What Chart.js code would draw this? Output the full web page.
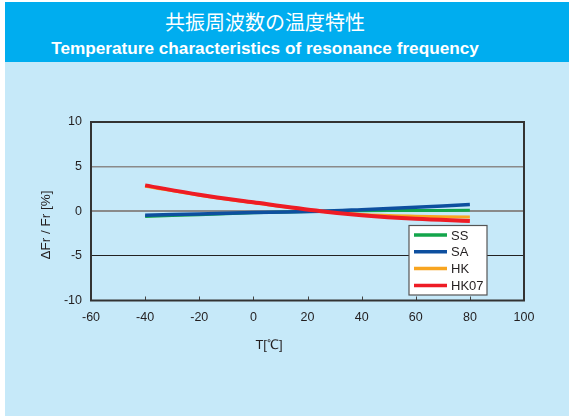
<!DOCTYPE html>
<html lang="ja">
<head>
<meta charset="UTF-8">
<title>共振周波数の温度特性</title>
<script src="https://cdn.jsdelivr.net/npm/chart.js@4.4.5/dist/chart.umd.min.js"></script>
<style>
    body { margin: 0; background: #fff; width: 569px; height: 416px; overflow: hidden; position: relative; }
    #panel { position: absolute; left: 5px; top: 2px; width: 564px; height: 414px; background: #c6e9f9; }
    #header { position: absolute; left: 5px; top: 2px; width: 564px; height: 60px; background: #00adef; color: #fff; }
    #header .jp { position: absolute; left: 0; width: 520px; top: 7px; text-align: center;
        font-family: "Noto Sans CJK JP", sans-serif; font-size: 20px; line-height: 26px; }
    #header .en { position: absolute; left: 0; width: 520px; top: 36px; text-align: center;
        font-family: "Liberation Sans", Arial, sans-serif; font-weight: bold; font-size: 17.2px; line-height: 20px; }
    #wrap { position: absolute; left: 0; top: 0; width: 569px; height: 416px; }
</style>
</head>
<body>
<div id="panel"></div>
<div id="header">
    <div class="jp">共振周波数の温度特性</div>
    <div class="en">Temperature characteristics of resonance frequency</div>
</div>
<div id="wrap"><canvas id="myChart" width="569" height="416"></canvas></div>

<script>
    // temperatures in degC
    const temps = [-40, -20, 0, 25, 40, 60, 80];

    // dFr/Fr in %
    const ss   = [-0.6, -0.38, -0.18, 0, 0.06, 0.09, 0.1];
    const sa   = [-0.45, -0.3, -0.15, 0, 0.18, 0.45, 0.75];
    const hk   = [2.8, 1.8, 0.95, 0, -0.35, -0.55, -0.65];
    const hk07 = [2.9, 1.85, 1.0, 0, -0.45, -0.85, -1.1];

    const seriesNames = ['SS', 'SA', 'HK', 'HK07'];
    const xTicks = [-60, -40, -20, 0, 20, 40, 60, 80, 100];
    const yTicks = [-10, -5, 0, 5, 10];

    const xTitle = 'T[℃]';
    const yTitle = 'ΔFr / Fr [%]';

    function pts(vals) {
        return temps.map((t, i) => ({x: t, y: vals[i]}));
    }

    const colors = ['#13a54b', '#0d4f9f', '#f8a520', '#ee1c25'];
    const widths = [3, 3.5, 3, 4];
    const orders = [3, 1, 2, 0];

    const datasets = [ss, sa, hk, hk07].map((vals, i) => ({
        label: seriesNames[i],
        data: pts(vals),
        borderColor: colors[i],
        borderWidth: widths[i],
        pointRadius: 0,
        tension: 0.35,
        fill: false,
        order: orders[i]
    }));

    const frameAndLegend = {
        id: 'frameAndLegend',
        beforeDatasetsDraw: function (chart) {
            const ctx = chart.ctx;
            const a = chart.chartArea;
            const xs = chart.scales.x;
            ctx.save();
            // inward ticks on bottom axis
            ctx.strokeStyle = '#444';
            ctx.lineWidth = 1;
            xTicks.slice(1, -1).forEach(v => {
                const px = Math.round(xs.getPixelForValue(v)) + 0.5;
                ctx.beginPath();
                ctx.moveTo(px, a.bottom);
                ctx.lineTo(px, a.bottom - 4);
                ctx.stroke();
            });
            ctx.restore();
        },
        afterDraw: function (chart) {
            const ctx = chart.ctx;
            const a = chart.chartArea;
            ctx.save();
            // frame
            ctx.strokeStyle = '#333';
            ctx.lineWidth = 2;
            ctx.strokeRect(a.left, a.top, a.right - a.left, a.bottom - a.top);

            // axis titles
            ctx.fillStyle = '#231f20';
            ctx.font = '13px "Liberation Sans", Arial, sans-serif';
            ctx.textAlign = 'center';
            ctx.textBaseline = 'middle';
            ctx.fillText(xTitle, 269, 345);
            ctx.save();
            ctx.translate(46, 225);
            ctx.rotate(-Math.PI / 2);
            ctx.font = '13.5px "Liberation Sans", Arial, sans-serif';
            ctx.fillText(yTitle, 0, 0);
            ctx.restore();

            // legend box
            const lx = 409, ly = 225.5, lw = 78, lh = 69.5;
            ctx.fillStyle = '#fff';
            ctx.fillRect(lx, ly, lw, lh);
            ctx.strokeStyle = '#555';
            ctx.lineWidth = 1.2;
            ctx.strokeRect(lx, ly, lw, lh);
            ctx.font = '13px "Liberation Sans", Arial, sans-serif';
            ctx.textAlign = 'left';
            chart.data.datasets.forEach((ds, i) => {
                const y = 235 + i * 16.8;
                ctx.strokeStyle = ds.borderColor;
                ctx.lineWidth = 3.5;
                ctx.beginPath();
                ctx.moveTo(414, y);
                ctx.lineTo(447, y);
                ctx.stroke();
                ctx.fillStyle = '#231f20';
                ctx.fillText(ds.label, 451, y + 1);
            });
            ctx.restore();
        }
    };

    const config = {
        type: 'line',
        data: { datasets: datasets },
        options: {
            responsive: false,
            animation: false,
            layout: {
                padding: { left: 0, top: 122, right: 45, bottom: 0 }
            },
            scales: {
                x: {
                    type: 'linear',
                    min: -60,
                    max: 100,
                    afterBuildTicks: function (scale) {
                        scale.ticks = xTicks.map(v => ({value: v}));
                    },
                    afterFit: function (scale) {
                        scale.height = 115.5;
                    },
                    grid: { display: false, drawTicks: false },
                    border: { display: false },
                    ticks: {
                        padding: 10,
                        color: '#231f20',
                        font: { family: '"Liberation Sans", Arial, sans-serif', size: 12.5 }
                    }
                },
                y: {
                    min: -10,
                    max: 10,
                    afterBuildTicks: function (scale) {
                        scale.ticks = yTicks.map(v => ({value: v}));
                    },
                    afterFit: function (scale) {
                        scale.width = 91;
                    },
                    grid: {
                        drawTicks: false,
                        color: function (c) {
                            if (c.tick.value === -5) return '#222';
                            return '#8a8a8a';
                        },
                        lineWidth: function (c) {
                            if (c.tick.value === 0) return 2;
                            if (c.tick.value === 5) return 1.5;
                            return 1;
                        }
                    },
                    border: { display: false },
                    ticks: {
                        padding: 9,
                        color: '#231f20',
                        font: { family: '"Liberation Sans", Arial, sans-serif', size: 12.5 }
                    }
                }
            },
            plugins: {
                legend: { display: false },
                tooltip: { enabled: false }
            }
        },
        plugins: [frameAndLegend]
    };

    const ctx = document.getElementById('myChart').getContext('2d');
    const myChart = new Chart(ctx, config);
</script>
</body>
</html>
